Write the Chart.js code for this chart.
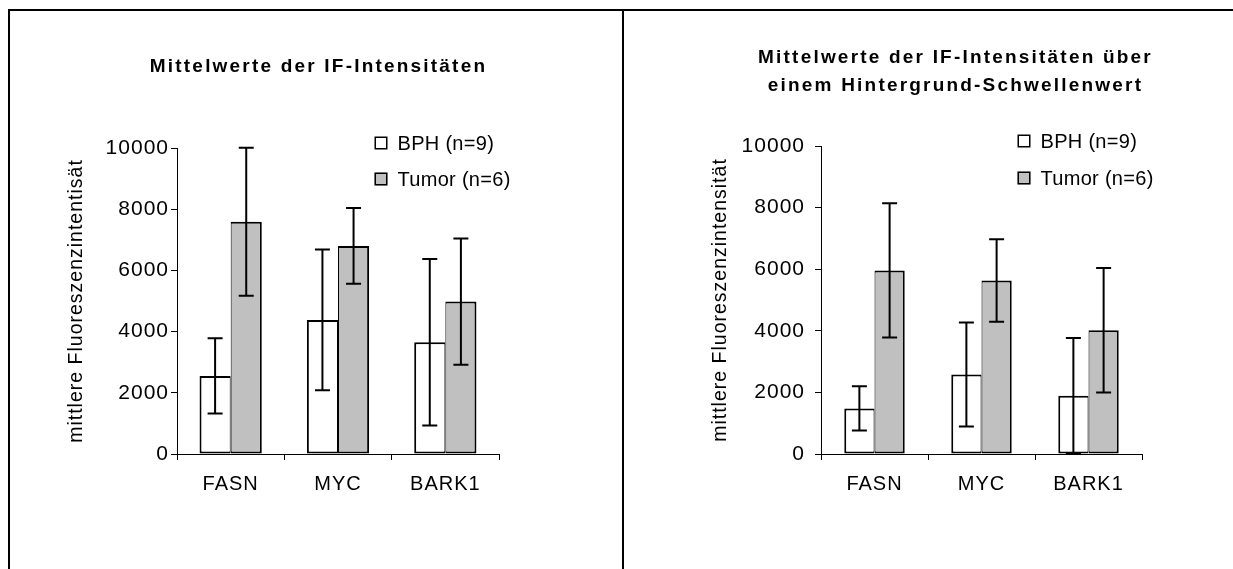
<!DOCTYPE html>
<html><head><meta charset="utf-8">
<script src="https://cdn.jsdelivr.net/npm/chart.js@4.4.1/dist/chart.umd.min.js"></script>
<style>
html,body{margin:0;padding:0;background:#fff;width:1233px;height:569px;overflow:hidden;position:relative}
.line{position:absolute;background:#000}
canvas{position:absolute}
</style></head><body>
<div class="line" style="left:8px;top:9px;width:1225px;height:2px"></div>
<div class="line" style="left:8px;top:9px;width:2px;height:560px"></div>
<div class="line" style="left:622px;top:9px;width:2px;height:560px"></div>
<canvas id="c1" width="612" height="558" style="left:10px;top:11px"></canvas>
<canvas id="c2" width="609" height="558" style="left:624px;top:11px"></canvas>
<script>
// ---- data ----
const categories = ['FASN', 'MYC', 'BARK1'];
const seriesLabels = ['BPH (n=9)', 'Tumor (n=6)'];
const yTicks = [0, 2000, 4000, 6000, 8000, 10000];
const yTickLabels = ['0', '2000', '4000', '6000', '8000', '10000'];

const titleLeft = ['Mittelwerte der IF-Intensitäten'];
const titleRight = ['Mittelwerte der IF-Intensitäten über', 'einem Hintergrund-Schwellenwert'];
const yTitleLeft = 'mittlere Fluoreszenzintentisät';
const yTitleRight = 'mittlere Fluoreszenzintensität';

// left chart: means and standard deviations
const bphMeanLeft = [2550, 4380, 3650];
const bphSdLeft = [1230, 2300, 2720];
const tumorMeanLeft = [7590, 6800, 4980];
const tumorSdLeft = [2420, 1240, 2060];

// right chart (above background threshold)
const bphMeanRight = [1480, 2580, 1890];
const bphSdRight = [720, 1690, 1880];
const tumorMeanRight = [5960, 5630, 4020];
const tumorSdRight = [2180, 1340, 2020];

// ---- rendering ----
const FAMILY = "'Liberation Sans', Arial, sans-serif";
Chart.defaults.font.family = FAMILY;
Chart.defaults.color = '#000';

const spacingPlugin = {
  id: 'spacing',
  beforeLayout(chart) { chart.ctx.letterSpacing = '1px'; },
  beforeDraw(chart) { chart.ctx.letterSpacing = '1px'; }
};

const errorBars = {
  id: 'errorBars',
  afterDatasetsDraw(chart) {
    const ctx = chart.ctx, y = chart.scales.y;
    ctx.save();
    ctx.strokeStyle = '#000';
    ctx.lineWidth = 2;
    chart.data.datasets.forEach((ds, i) => {
      const meta = chart.getDatasetMeta(i);
      meta.data.forEach((bar, j) => {
        const m = ds.data[j], e = ds.errors[j];
        const yt = y.getPixelForValue(m + e);
        const yb = y.getPixelForValue(Math.max(0, m - e));
        const x = bar.x, w = 7.5;
        ctx.beginPath();
        ctx.moveTo(x, yt); ctx.lineTo(x, yb);
        ctx.moveTo(x - w, yt); ctx.lineTo(x + w, yt);
        ctx.moveTo(x - w, yb); ctx.lineTo(x + w, yb);
        ctx.stroke();
      });
    });
    ctx.restore();
  }
};

function makeDecor(cfg) {
  return {
    id: 'decor',
    afterDraw(chart) {
      const ctx = chart.ctx, a = chart.chartArea;
      ctx.save();
      ctx.fillStyle = '#000';
      ctx.font = 'bold 19px ' + FAMILY;
      ctx.letterSpacing = '2.2px';
      ctx.textAlign = 'center';
      ctx.textBaseline = 'alphabetic';
      cfg.title.forEach((t, i) => ctx.fillText(t, cfg.titleX, cfg.titleY + i * cfg.titleGap));
      ctx.font = '20px ' + FAMILY;
      ctx.letterSpacing = '0.3px';
      ctx.textAlign = 'left';
      ctx.textBaseline = 'middle';
      chart.data.datasets.forEach((ds, i) => {
        const bx = a.right + cfg.legendDX;
        const cy = a.top + cfg.legendRows[i];
        ctx.fillStyle = ds.backgroundColor;
        ctx.fillRect(bx, cy - 6.5, 13, 13);
        ctx.strokeStyle = '#000';
        ctx.lineWidth = 1.5;
        ctx.strokeRect(bx + 0.75, cy - 5.75, 11.5, 11.5);
        ctx.fillStyle = '#000';
        ctx.fillText(ds.label, bx + 23, cy + 1);
      });
      ctx.restore();
    }
  };
}

function makeChart(id, bphMean, bphSd, tumorMean, tumorSd, yTitle, lay) {
  return new Chart(document.getElementById(id), {
    type: 'bar',
    data: {
      labels: categories,
      datasets: [
        { label: seriesLabels[0], data: bphMean, errors: bphSd,
          backgroundColor: '#ffffff', borderColor: '#000',
          borderWidth: { top: 2, left: 2, bottom: 2, right: 1 }, borderSkipped: false,
          categoryPercentage: lay.cat, barPercentage: 1 },
        { label: seriesLabels[1], data: tumorMean, errors: tumorSd,
          backgroundColor: '#c0c0c0', borderColor: '#000',
          borderWidth: { top: 2, left: 1, bottom: 2, right: 2 }, borderSkipped: false,
          categoryPercentage: lay.cat, barPercentage: 1 }
      ]
    },
    options: {
      responsive: false,
      animation: false,
      layout: { padding: { left: 0, top: lay.top, right: lay.right, bottom: 75 } },
      plugins: { legend: { display: false }, title: { display: false }, tooltip: { enabled: false } },
      scales: {
        x: {
          grid: { display: true, drawOnChartArea: false, drawTicks: true, tickLength: 6, color: '#000', offset: true },
          border: { display: true, color: '#000', width: 1 },
          ticks: { color: '#000', font: { size: 20 }, padding: 12, maxRotation: 0 },
          afterFit(s) { s.height = 40; }
        },
        y: {
          min: 0, max: 10000,
          afterBuildTicks(s) { s.ticks = yTicks.map(v => ({ value: v })); },
          ticks: { color: '#000', font: { size: 21 }, padding: lay.tickPad,
                   callback: (v) => yTickLabels[yTicks.indexOf(v)] },
          grid: { display: true, drawOnChartArea: false, drawTicks: true, tickLength: 6, color: '#000' },
          border: { display: true, color: '#000', width: 1 },
          title: { display: true, text: yTitle, color: '#000', font: { size: 19.5 }, padding: { top: lay.titlePad, bottom: 0 } },
          afterFit(s) { s.width = lay.left; }
        }
      }
    },
    plugins: [spacingPlugin, errorBars, makeDecor(lay.decor)]
  });
}

makeChart('c1', bphMeanLeft, bphSdLeft, tumorMeanLeft, tumorSdLeft, yTitleLeft,
  { left: 167, right: 123, top: 137, cat: 0.58, tickPad: 2, titlePad: 55,
    decor: { title: titleLeft, titleX: 308.5, titleY: 60.5, titleGap: 28.5, legendDX: -124.5, legendRows: [-5, 31] } });

makeChart('c2', bphMeanRight, bphSdRight, tumorMeanRight, tumorSdRight, yTitleRight,
  { left: 197, right: 91, top: 135, cat: 0.565, tickPad: 10, titlePad: 85,
    decor: { title: titleRight, titleX: 331.5, titleY: 51.8, titleGap: 28.5, legendDX: -124.5, legendRows: [-5, 32] } });
</script>
</body></html>
